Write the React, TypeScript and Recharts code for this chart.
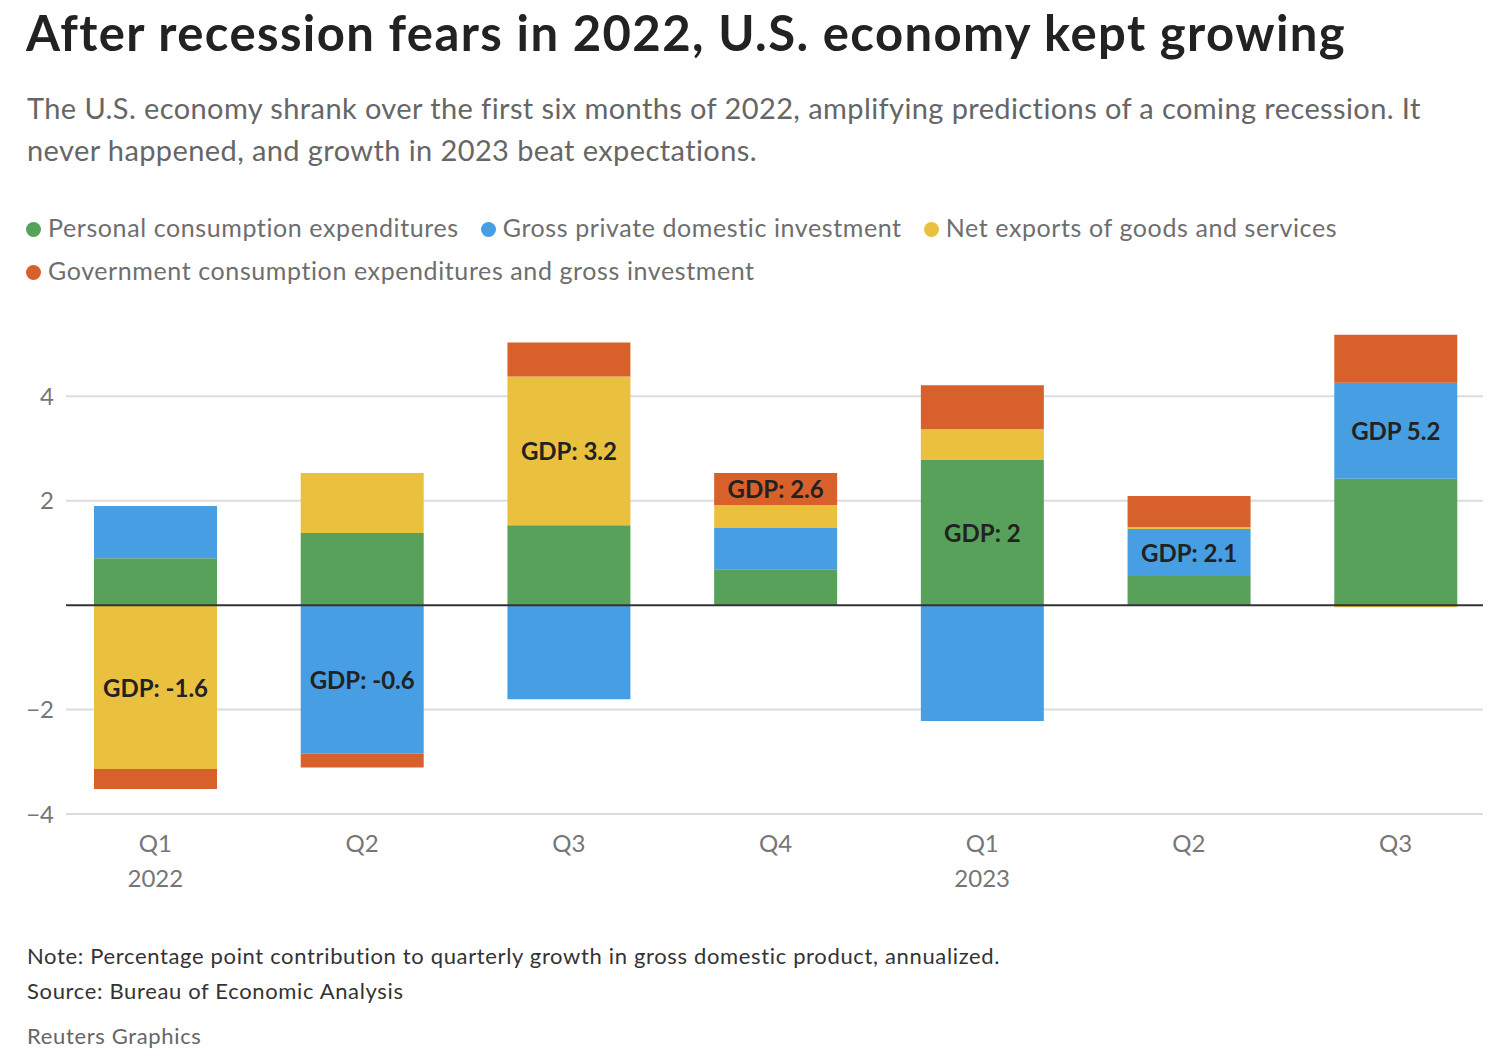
import React from "react";
import {
  Bar,
  BarChart,
  CartesianGrid,
  LabelList,
  ReferenceLine,
  XAxis,
  YAxis,
} from "recharts";

const quarterLabels = ["Q1", "Q2", "Q3", "Q4", "Q1", "Q2", "Q3"];
const yearLabels = ["2022", "", "", "", "2023", "", ""];

// percentage point contributions to annualized GDP growth
const pceValues = [0.9, 1.38, 1.53, 0.69, 2.78, 0.56, 2.42];
const investmentValues = [1.0, -2.84, -1.8, 0.79, -2.22, 0.9, 1.84];
const netExportValues = [-3.14, 1.15, 2.85, 0.44, 0.59, 0.03, -0.04];
const governmentValues = [-0.38, -0.27, 0.65, 0.61, 0.84, 0.6, 0.92];

const gdpLabels = [
  "GDP: -1.6",
  "GDP: -0.6",
  "GDP: 3.2",
  "GDP: 2.6",
  "GDP: 2",
  "GDP: 2.1",
  "GDP 5.2",
];
// which segment each GDP label sits in
const gdpLabelSeries = ["nx", "inv", "nx", "gov", "pce", "inv", "inv"];

const yTicks = [-4, -2, 0, 2, 4];
const gridValues = [-4, -2, 2, 4];

const series = [
  { key: "pce", name: "Personal consumption expenditures", color: "#58a15b" },
  { key: "inv", name: "Gross private domestic investment", color: "#489ee3" },
  { key: "nx", name: "Net exports of goods and services", color: "#eac13f" },
  {
    key: "gov",
    name: "Government consumption expenditures and gross investment",
    color: "#d8602b",
  },
];

const data = quarterLabels.map((q, i) => ({
  id: i,
  pce: pceValues[i],
  inv: investmentValues[i],
  nx: netExportValues[i],
  gov: governmentValues[i],
}));

const FONT = "Lato, 'Open Sans', sans-serif";

const QuarterTick = (props: any) => {
  const { x, y, payload } = props;
  const i = payload.index;
  return (
    <text
      x={x}
      y={y}
      textAnchor="middle"
      fill="#767676"
      fontSize={24}
      fontFamily={FONT}
    >
      <tspan x={x} dy={30}>
        {quarterLabels[i]}
      </tspan>
      {yearLabels[i] && (
        <tspan x={x} dy={35}>
          {yearLabels[i]}
        </tspan>
      )}
    </text>
  );
};

const makeGdpLabel = (key: string) => (props: any) => {
  const { x, y, width, height, index } = props;
  if (gdpLabelSeries[index] !== key) return null;
  return (
    <text
      x={x + width / 2}
      y={y + height / 2}
      textAnchor="middle"
      dominantBaseline="central"
      fill="#222"
      fontSize={24}
      fontWeight={700}
      fontFamily={FONT}
    >
      {gdpLabels[index]}
    </text>
  );
};

export default function App() {
  return (
    <div
      style={{
        position: "absolute",
        left: 0,
        top: 0,
        width: 1501,
        height: 1054,
        background: "#fff",
        fontFamily: FONT,
      }}
    >
      <div
        style={{
          position: "absolute",
          left: 26,
          top: 3,
          fontSize: 49,
          fontWeight: 700,
          letterSpacing: 1.4,
          color: "#222",
          whiteSpace: "nowrap",
        }}
      >
        After recession fears in 2022, U.S. economy kept growing
      </div>
      <div
        style={{
          position: "absolute",
          left: 27,
          top: 87,
          width: 1450,
          fontSize: 29,
          letterSpacing: 0.4,
          lineHeight: "42px",
          color: "#666",
        }}
      >
        The U.S. economy shrank over the first six months of 2022, amplifying
        predictions of a coming recession. It never happened, and growth in 2023
        beat expectations.
      </div>
      <div
        style={{
          position: "absolute",
          left: 26,
          top: 206,
          width: 1420,
          fontSize: 25,
          letterSpacing: 0.6,
          lineHeight: "43px",
          color: "#6e6e6e",
        }}
      >
        {series.map((s) => (
          <span
            key={s.key}
            style={{ marginRight: 22, whiteSpace: "nowrap", display: "inline-block" }}
          >
            <span
              style={{
                display: "inline-block",
                width: 15,
                height: 15,
                borderRadius: "50%",
                background: s.color,
                marginRight: 7,
              }}
            />
            {s.name}
          </span>
        ))}
      </div>

      <div style={{ position: "absolute", left: 0, top: 308 }}>
        <BarChart
          width={1501}
          height={600}
          data={data}
          stackOffset="sign"
          margin={{ top: 10, right: 18, bottom: 0, left: 0 }}
        >
          <CartesianGrid
            vertical={false}
            horizontalValues={gridValues}
            stroke="#dcdcdc"
            strokeWidth={2}
          />
          <XAxis
            dataKey="id"
            type="category"
            axisLine={false}
            tickLine={false}
            height={94}
            padding={{ left: -14, right: -16 }}
            tick={<QuarterTick />}
            interval={0}
          />
          <YAxis
            width={66}
            domain={[-4, 5.5]}
            ticks={yTicks}
            axisLine={false}
            tickLine={false}
            tick={{ fill: "#767676", fontSize: 24, fontFamily: FONT, dx: -4 }}
            tickFormatter={(v: number) => (v === 0 ? "" : v < 0 ? `\u2212${-v}` : `${v}`)}
          />
          {series.map((s) => (
            <Bar
              key={s.key}
              dataKey={s.key}
              name={s.name}
              stackId="gdp"
              fill={s.color}
              barSize={123}
              isAnimationActive={false}
            >
              <LabelList dataKey={s.key} content={makeGdpLabel(s.key)} />
            </Bar>
          ))}
          <ReferenceLine y={0} stroke="#333" strokeWidth={2} />
        </BarChart>
      </div>

      <div
        style={{
          position: "absolute",
          left: 27,
          top: 938,
          fontSize: 22,
          letterSpacing: 0.65,
          lineHeight: "35px",
          color: "#333",
        }}
      >
        <div>
          Note: Percentage point contribution to quarterly growth in gross
          domestic product, annualized.
        </div>
        <div>Source: Bureau of Economic Analysis</div>
        <div style={{ color: "#666", marginTop: 10 }}>Reuters Graphics</div>
      </div>
    </div>
  );
}
